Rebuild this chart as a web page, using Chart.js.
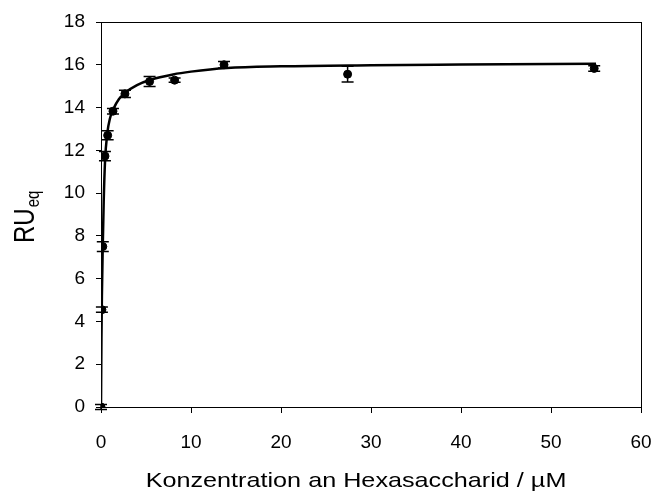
<!DOCTYPE html>
<html>
<head>
<meta charset="utf-8">
<script src="https://cdn.jsdelivr.net/npm/chart.js@4/dist/chart.umd.min.js"></script>
<style>
  html, body { margin: 0; padding: 0; background: #fff; }
  #wrap { width: 653px; height: 493px; }
</style>
</head>
<body>
<div id="wrap"><canvas id="chart1"></canvas></div>
<script>
// Messwerte (Konzentration in µM, RU_eq, Fehler)
const concentrations = [0, 0.1, 0.2, 0.44, 0.74, 1.33, 2.66, 5.4, 8.18, 13.67, 27.4, 54.8]
const ruValues = [0, 4.55, 7.5, 11.73, 12.7, 13.83, 14.64, 15.22, 15.28, 16.0, 15.56, 15.83]
const ruErrors = [0.12, 0.12, 0.23, 0.22, 0.21, 0.13, 0.17, 0.23, 0.1, 0.15, 0.37, 0.13]

// Fit-Kurve
const fitX = [0, 0.05, 0.1, 0.2, 0.3, 0.45, 0.7, 1.0, 1.4, 2.0, 2.7, 4.0, 5.5, 8.0, 10, 14, 20, 30, 40, 55]
const fitY = [0, 3.2, 5.2, 7.6, 9.6, 11.5, 12.8, 13.5, 13.95, 14.4, 14.7, 15.05, 15.3, 15.55, 15.68, 15.85, 15.93, 15.98, 16.01, 16.05]

const xTicks = [0, 10, 20, 30, 40, 50, 60]
const yTicks = [0, 2, 4, 6, 8, 10, 12, 14, 16, 18]

const FONT = '"Liberation Sans", Arial, sans-serif'
const STRETCH = 1.2 // Original ist horizontal gestreckt

const errorBars = {
    id: 'errorBars',
    afterDatasetsDraw(chart) {
        const ctx = chart.ctx
        const x = chart.scales.x, y = chart.scales.y
        ctx.save()
        ctx.strokeStyle = '#000'
        ctx.lineWidth = 1.5
        concentrations.forEach((c, i) => {
            const px = x.getPixelForValue(c)
            const top = y.getPixelForValue(ruValues[i] + ruErrors[i])
            const bot = y.getPixelForValue(ruValues[i] - ruErrors[i])
            ctx.beginPath()
            ctx.moveTo(px, top); ctx.lineTo(px, bot)
            ctx.moveTo(px - 6, top); ctx.lineTo(px + 6, top)
            ctx.moveTo(px - 6, bot); ctx.lineTo(px + 6, bot)
            ctx.stroke()
        })
        ctx.restore()
    }
}

const frameAndTitles = {
    id: 'frameAndTitles',
    afterDraw(chart) {
        const ctx = chart.ctx
        const a = chart.chartArea
        ctx.save()
        ctx.strokeStyle = '#000'
        ctx.lineWidth = 1
        ctx.strokeRect(a.left + 0.5, a.top + 0.5, a.right - a.left, a.bottom - a.top)
        ctx.restore()

        // x-Titel
        ctx.save()
        ctx.fillStyle = '#000'
        ctx.textBaseline = 'alphabetic'
        ctx.textAlign = 'center'
        ctx.font = '21px ' + FONT
        ctx.translate(356, 487)
        ctx.scale(STRETCH, 1)
        ctx.fillText('Konzentration an Hexasaccharid / µM', 0, 0)
        ctx.restore()

        // y-Titel mit Index
        ctx.save()
        ctx.fillStyle = '#000'
        ctx.textBaseline = 'alphabetic'
        ctx.textAlign = 'left'
        ctx.translate(34, 243)
        ctx.rotate(-Math.PI / 2)
        ctx.scale(1, STRETCH)
        ctx.font = '24px ' + FONT
        ctx.fillText('RU', 0, 0)
        const w1 = ctx.measureText('RU').width
        ctx.font = '15px ' + FONT
        ctx.fillText('eq', w1 + 1, 4)
        ctx.restore()
    }
}

const data = {
    datasets: [{
        label: 'Fit',
        data: fitX.map((v, i) => ({ x: v, y: fitY[i] })),
        showLine: true,
        borderColor: '#000',
        borderWidth: 2.5,
        pointRadius: 0,
        cubicInterpolationMode: 'monotone',
        order: 2
    }, {
        label: 'Messwerte',
        data: concentrations.map((v, i) => ({ x: v, y: ruValues[i] })),
        showLine: false,
        pointRadius: 4,
        pointBackgroundColor: '#000',
        pointBorderColor: '#000',
        order: 1
    }]
}

const options = {
    responsive: false,
    animation: false,
    layout: { padding: { top: 22, right: 12, left: 0, bottom: 0 } },
    plugins: {
        legend: { display: false },
        tooltip: { enabled: false }
    },
    scales: {
        x: {
            type: 'linear',
            min: 0,
            max: 60,
            afterBuildTicks: s => { s.ticks = xTicks.map(v => ({ value: v })) },
            afterFit: s => { s.height = 86; s.paddingRight = 0; s.paddingLeft = 0 },
            grid: { drawOnChartArea: false, color: '#000', tickLength: 6, tickColor: '#000' },
            border: { color: '#000' },
            ticks: { color: '#000', font: { family: FONT, size: 19 }, padding: 18, maxRotation: 0 }
        },
        y: {
            min: 0,
            max: 18,
            afterBuildTicks: s => { s.ticks = yTicks.map(v => ({ value: v })) },
            afterFit: s => { s.width = 101; s.paddingTop = 0; s.paddingBottom = 0 },
            grid: { drawOnChartArea: false, color: '#000', tickLength: 5, tickColor: '#000' },
            border: { color: '#000' },
            ticks: { color: '#000', font: { family: FONT, size: 19 }, padding: 11 }
        }
    }
}

const canvas = document.getElementById('chart1')
canvas.width = 653
canvas.height = 493
new Chart(canvas, { type: 'scatter', data, options, plugins: [errorBars, frameAndTitles] })
</script>
</body>
</html>
